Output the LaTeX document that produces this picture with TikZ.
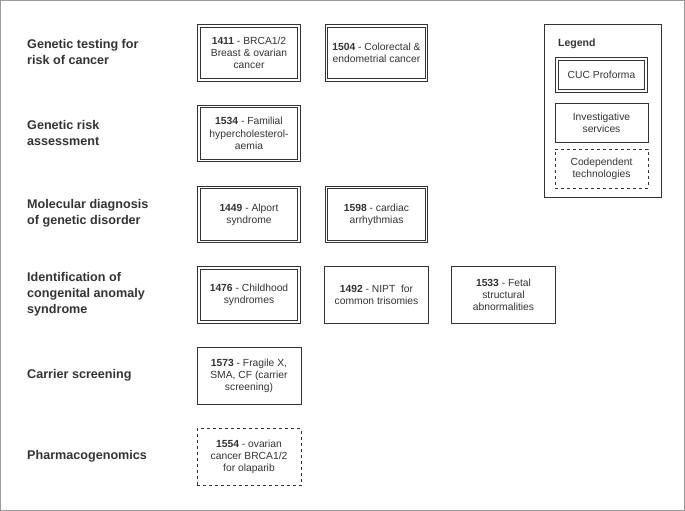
\documentclass[tikz,border=0pt]{standalone}
\usepackage{fontspec}
\setmainfont{Liberation Sans}
\usepackage{tikz}
\usetikzlibrary{positioning}
\definecolor{ink}{HTML}{333333}
\definecolor{framegray}{HTML}{9A9A9A}
\tikzstyle{cuc}=[draw=ink, double=white, double distance=1.6pt, line width=0.8pt, minimum width=100pt, minimum height=54pt, align=center, text=ink, inner sep=1pt, font=\fontsize{10.3}{12.3}\selectfont]
\tikzstyle{inv}=[draw=ink, line width=0.8pt, minimum width=104pt, minimum height=57pt, align=center, text=ink, inner sep=1pt, font=\fontsize{10.3}{12.3}\selectfont]
\tikzstyle{codep}=[inv, dashed]
\tikzstyle{rowlabel}=[anchor=west, align=left, text=ink, inner sep=0pt, font=\bfseries\fontsize{12.6}{16}\selectfont]

\begin{document}
\begin{tikzpicture}[x=1pt,y=-1pt]
        \draw[framegray, line width=1pt] (0.5,0.5) rectangle (684.5,510.5);
        \useasboundingbox (0,0) rectangle (685,511);
        % row labels
        \node [rowlabel] (r1) at (27,52) {Genetic testing for\\risk of cancer};
        \node [rowlabel] (r2) at (27,133) {Genetic risk\\assessment};
        \node [rowlabel] (r3) at (27,213) {Molecular diagnosis\\of genetic disorder};
        \node [rowlabel] (r4) at (27,294) {Identification of\\congenital anomaly\\syndrome};
        \node [rowlabel] (r5) at (27,375) {Carrier screening};
        \node [rowlabel] (r6) at (27,456) {Pharmacogenomics};
        % services
        \node [cuc] (a) at (249,53) {\textbf{1411} - BRCA1/2\\Breast \& ovarian\\cancer};
        \node [cuc] (b) at (376.5,53) {\textbf{1504} - Colorectal \&\\endometrial cancer};
        \node [cuc] (c) at (249,133.5) {\textbf{1534} - Familial\\hypercholesterol-\\aemia};
        \node [cuc] (d) at (249,214.5) {\textbf{1449} - Alport\\syndrome};
        \node [cuc] (e) at (376.5,214.5) {\textbf{1598} - cardiac\\arrhythmias};
        \node [cuc] (f) at (249,295) {\textbf{1476} - Childhood\\syndromes};
        \node [inv] (g) at (376.5,295) {\textbf{1492} - NIPT\ \ for\\common trisomies};
        \node [inv] (h) at (503.5,295) {\textbf{1533} - Fetal\\structural\\abnormalities};
        \node [inv] (i) at (249,376) {\textbf{1573} - Fragile X,\\SMA, CF (carrier\\screening)};
        \node [codep] (j) at (249,457) {\textbf{1554} - ovarian\\cancer BRCA1/2\\for olaparib};
        % legend
        \node [draw=ink, line width=0.8pt, minimum width=117pt, minimum height=173pt] (leg) at (602.5,110.5) {};
        \node [rowlabel, font=\bfseries\fontsize{10.5}{12}\selectfont] (legt) at (558,44) {Legend};
        \node [cuc, minimum width=89pt, minimum height=32pt] (l1) at (601.5,75) {CUC Proforma};
        \node [inv, minimum width=93pt, minimum height=39pt] (l2) at (601.5,122.5) {Investigative\\services};
        \node [codep, minimum width=93pt, minimum height=39pt] (l3) at (601.5,168.5) {Codependent\\technologies};
    \end{tikzpicture}
\end{document}
